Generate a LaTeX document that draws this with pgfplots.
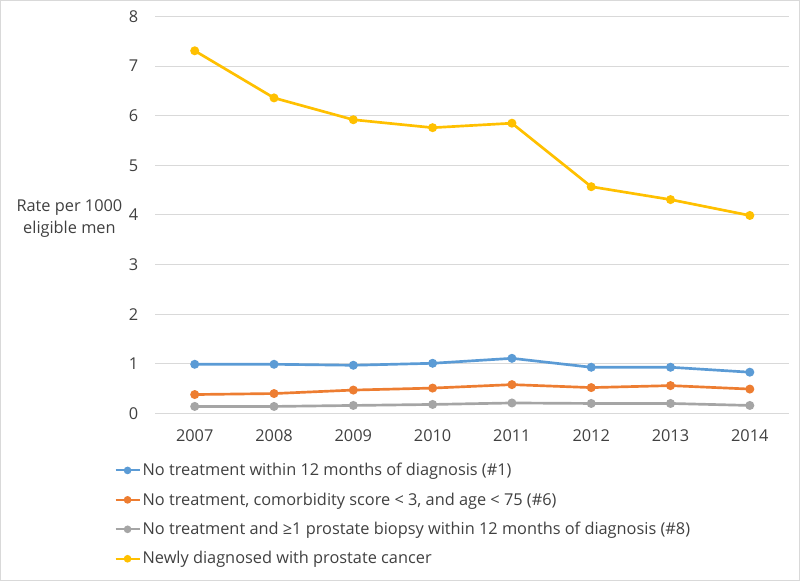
\documentclass[border=0pt]{standalone}
\usepackage{fontspec}
\setmainfont{Open Sans}
\usepackage{pgfplots}
\pgfplotsset{compat=1.18}
\definecolor{cBlue}{HTML}{5B9BD5}
\definecolor{cOrange}{HTML}{ED7D31}
\definecolor{cGray}{HTML}{A5A5A5}
\definecolor{cYellow}{HTML}{FFC000}
\definecolor{cGrid}{HTML}{D9D9D9}
\definecolor{cText}{HTML}{404040}

\begin{document}
\begin{tikzpicture}
% 1px of the reference = 0.75pt
\begin{axis}[
  at={(0,0)}, anchor=south west,
  scale only axis, width=474pt, height=296.5pt,
  xmin=2006.5, xmax=2014.5, ymin=0, ymax=8,
  xtick={2007,...,2014}, ytick={0,...,8},
  xticklabel style={/pgf/number format/1000 sep={}},
  /pgf/number format/assume math mode=true,
  tick label style={font=\fontsize{12.2}{14}\selectfont, text=cText},
  major tick length=0pt,
  axis x line*=bottom, axis y line*=left,
  x axis line style={cGrid, line width=0.75pt},
  y axis line style={draw=none},
  ymajorgrids, grid style={cGrid, line width=0.75pt},
  yticklabel style={xshift=-9pt},
  xticklabel style={yshift=-9pt},
  every axis plot/.append style={line width=2pt, mark=*, mark size=2.3pt},
  legend cell align=left,
  legend style={at={(-30.5pt,-35pt)}, anchor=north west, draw=none, fill=none,
    font=\fontsize{12.2}{14}\selectfont, text=cText,
    row sep=7.2pt, inner xsep=0pt, inner ysep=0pt,
    nodes={inner xsep=1.5pt}},
  legend image code/.code={
    \draw[#1, line width=1.5pt, mark=none] (0pt,0pt) -- (18pt,0pt);
    \fill[#1] (9pt,0pt) circle (1.8pt);},
  clip=false,
]
\addplot[cBlue, mark options={fill=cBlue}] coordinates
  {(2007,0.99)(2008,0.99)(2009,0.97)(2010,1.01)(2011,1.11)(2012,0.93)(2013,0.93)(2014,0.83)};
\addlegendentry{No treatment within 12 months of diagnosis (\#1)}
\addplot[cOrange, mark options={fill=cOrange}] coordinates
  {(2007,0.38)(2008,0.40)(2009,0.47)(2010,0.51)(2011,0.58)(2012,0.52)(2013,0.56)(2014,0.49)};
\addlegendentry{No treatment, comorbidity score < 3, and age < 75 (\#6)}
\addplot[cGray, mark options={fill=cGray}] coordinates
  {(2007,0.14)(2008,0.14)(2009,0.16)(2010,0.18)(2011,0.21)(2012,0.20)(2013,0.20)(2014,0.16)};
\addlegendentry{No treatment and ≥1 prostate biopsy within 12 months of diagnosis (\#8)}
\addplot[cYellow, mark options={fill=cYellow}] coordinates
  {(2007,7.31)(2008,6.36)(2009,5.92)(2010,5.76)(2011,5.85)(2012,4.57)(2013,4.31)(2014,3.99)};
\addlegendentry{Newly diagnosed with prostate cancer}
\end{axis}
\node[font=\fontsize{12.2}{17}\selectfont, text=cText, align=center]
  at (-64pt,145.5pt) {Rate per 1000\\eligible men};
\draw[cGrid, line width=0.75pt] (-115.5pt,-124.5pt) rectangle (481.5pt,308.5pt);
\end{tikzpicture}
\end{document}
